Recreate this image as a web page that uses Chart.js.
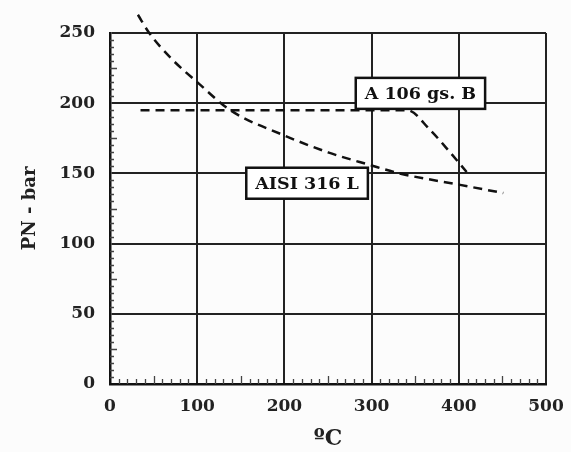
<!DOCTYPE html>
<html>
<head>
<meta charset="utf-8">
<script src="https://cdn.jsdelivr.net/npm/chart.js@4.4.0/dist/chart.umd.min.js"></script>
<style>
  html, body { margin: 0; padding: 0; background: #fcfcfc; }
  #wrap { width: 571px; height: 452px; }
</style>
</head>
<body>
<div id="wrap"><canvas id="chart" width="571" height="452"></canvas></div>
<script>
// temperature (°C) and rated pressure (bar)
const aisiTemp = [32, 45, 70, 100, 138, 200, 250, 298, 332, 400, 451];
const aisiPN = [263, 250, 232, 215, 195, 177, 165, 156, 150, 142, 136];
const a106Temp = [35, 100, 200, 300, 341, 367, 390, 409];
const a106PN = [195, 195, 195, 195, 195, 181, 165, 151];
const xTicks = [0, 100, 200, 300, 400, 500];
const yTicks = [0, 50, 100, 150, 200, 250];
const seriesNames = ['AISI 316 L', 'A 106 gs. B'];

// where the name boxes sit, in data units
const nameBoxes = [
  { text: seriesNames[0], x: 226, y: 143 },
  { text: seriesNames[1], x: 356, y: 207 }
];

const FONT = 'DejaVu Serif';

const toXY = (xs, ys) => xs.map((x, i) => ({ x: x, y: ys[i] }));

// small inner ticks along the bottom and left edges
const minorTicks = {
  id: 'minorTicks',
  afterDraw(chart) {
    const ctx = chart.ctx;
    const xs = chart.scales.x, ys = chart.scales.y;
    ctx.save();
    ctx.strokeStyle = '#444';
    ctx.lineWidth = 1.3;
    ctx.beginPath();
    for (let v = 10; v < 500; v += 10) {
      if (v % 100 === 0) continue;
      const px = Math.round(xs.getPixelForValue(v)) + 0.5;
      const len = v % 50 === 0 ? 8 : 5;
      ctx.moveTo(px, ys.bottom);
      ctx.lineTo(px, ys.bottom - len);
    }
    for (let v = 5; v < 250; v += 5) {
      if (v % 50 === 0) continue;
      const py = Math.round(ys.getPixelForValue(v)) + 0.5;
      const len = v % 25 === 0 ? 7 : 4;
      ctx.moveTo(xs.left, py);
      ctx.lineTo(xs.left + len, py);
    }
    ctx.stroke();
    ctx.restore();
  }
};

// boxed series names
const nameLabels = {
  id: 'nameLabels',
  afterDatasetsDraw(chart) {
    const ctx = chart.ctx;
    const xs = chart.scales.x, ys = chart.scales.y;
    ctx.save();
    ctx.font = 'bold 17.5px "' + FONT + '"';
    ctx.textAlign = 'center';
    ctx.textBaseline = 'middle';
    nameBoxes.forEach(b => {
      const cx = xs.getPixelForValue(b.x);
      const cy = ys.getPixelForValue(b.y);
      const w = ctx.measureText(b.text).width + 18;
      const h = 31;
      ctx.fillStyle = '#ffffff';
      ctx.fillRect(cx - w / 2, cy - h / 2, w, h);
      ctx.strokeStyle = '#111';
      ctx.lineWidth = 2.5;
      ctx.strokeRect(cx - w / 2, cy - h / 2, w, h);
      ctx.fillStyle = '#111';
      ctx.fillText(b.text, cx, cy + 1);
    });
    ctx.restore();
  }
};

const bg = {
  id: 'bg',
  beforeDraw(chart) {
    const ctx = chart.ctx;
    ctx.save();
    ctx.fillStyle = '#fcfcfc';
    ctx.fillRect(0, 0, chart.width, chart.height);
    ctx.restore();
  }
};

const lineStyle = {
  borderColor: '#111',
  borderWidth: 2.5,
  borderDash: [9, 6],
  pointRadius: 0,
  fill: false,
  cubicInterpolationMode: 'monotone',
  clip: false
};

new Chart(document.getElementById('chart'), {
  type: 'line',
  data: {
    datasets: [
      Object.assign({ label: seriesNames[0], data: toXY(aisiTemp, aisiPN) }, lineStyle),
      Object.assign({ label: seriesNames[1], data: toXY(a106Temp, a106PN) }, lineStyle)
    ]
  },
  options: {
    responsive: false,
    animation: false,
    devicePixelRatio: 1,
    layout: { padding: { top: 33, right: 0, bottom: 0, left: 0 } },
    plugins: {
      legend: { display: false },
      tooltip: { enabled: false }
    },
    scales: {
      x: {
        type: 'linear',
        min: 0,
        max: 500,
        afterBuildTicks: s => { s.ticks = xTicks.map(v => ({ value: v })); },
        afterFit: s => { s.height = 68; s.paddingRight = 25; s.paddingLeft = 0; },
        grid: { color: '#222', lineWidth: 2, drawTicks: false },
        border: { color: '#111', width: 2.5 },
        ticks: {
          padding: 12,
          color: '#222',
          font: { family: FONT, size: 17, weight: 'bold' }
        },
        title: {
          display: true,
          text: 'ºC',
          color: '#222',
          padding: { top: 6, bottom: 0 },
          font: { family: FONT, size: 22, weight: 'bold' }
        }
      },
      y: {
        type: 'linear',
        min: 0,
        max: 250,
        afterBuildTicks: s => { s.ticks = yTicks.map(v => ({ value: v })); },
        afterFit: s => { s.width = 110; },
        grid: { color: '#222', lineWidth: 2, drawTicks: false },
        border: { color: '#111', width: 2.5 },
        ticks: {
          padding: 15,
          color: '#222',
          font: { family: FONT, size: 17, weight: 'bold' }
        },
        title: {
          display: true,
          text: 'PN - bar',
          color: '#222',
          padding: { top: 20, bottom: 0 },
          font: { family: FONT, size: 18, weight: 'bold' }
        }
      }
    }
  },
  plugins: [bg, minorTicks, nameLabels]
});
</script>
</body>
</html>
